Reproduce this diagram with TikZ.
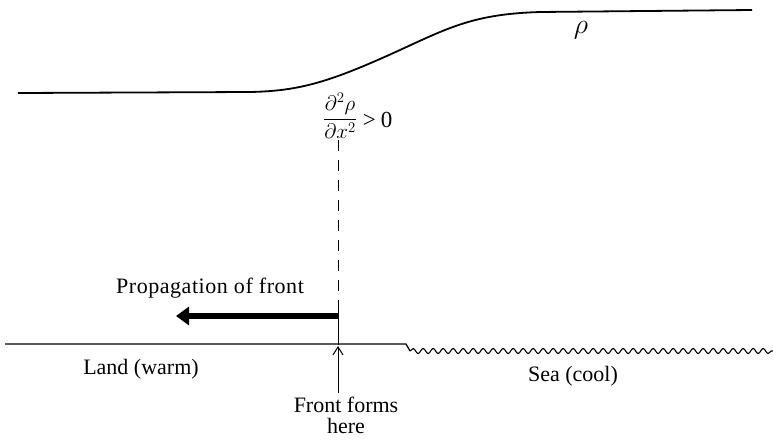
\RequirePackage{fix-cm}
\documentclass[tikz,border=0pt]{standalone}
\usepackage{amsmath}
\usepackage{fontspec}
\setmainfont{Liberation Serif}
\usetikzlibrary{arrows.meta,decorations.pathmorphing}
\begin{document}
\begin{tikzpicture}[x=1pt,y=-1pt,
  lbl/.style={font=\fontsize{22}{21}\selectfont, inner sep=0pt, align=center},
  mathlbl/.style={font=\fontsize{21}{24}\selectfont, inner sep=0pt},
  thinline/.style={line width=1pt}]
\useasboundingbox (0,0) rectangle (773,439);
% density curve
\draw[line width=1.8pt] (18,93) -- (250,92) .. controls (300,91) and (330,82) .. (400,50) .. controls (450,27) and (475,14) .. (540,12) -- (752,10);
\node[mathlbl, font=\fontsize{28}{30}\selectfont] (rho) at (581,30) {$\rho$};
\node[mathlbl, anchor=west] (cond) at (323,116) {$\dfrac{\partial^2\rho}{\partial x^2}$\hspace{6pt}\raisebox{-3.5pt}{\fontsize{23}{24}\selectfont >\hspace{5pt}0}};
% dashed front line
\coordinate (dtop) at (338,140);
\coordinate (dmid) at (338,300);
\coordinate (ground) at (338,345);
\draw[thinline, dash pattern=on 11pt off 9pt] (dtop) -- (dmid);
\draw[thinline] (dmid) -- (ground);
% propagation arrow
\coordinate (atail) at (338,316);
\coordinate (ahead) at (176,316);
\draw[line width=6pt, -{Triangle[length=13pt,width=18pt]}] (atail) -- (ahead);
\node[lbl, anchor=base, font=\fontsize{22}{22}\selectfont\addfontfeature{LetterSpace=2.5}] (prop) at (210,293) {Propagation of front};
% ground
\coordinate (gstart) at (5,344);
\coordinate (landend) at (406,344);
\coordinate (seastart) at (410,351);
\coordinate (seaend) at (773,351);
\draw[line width=1.3pt] (gstart) -- (landend) -- (seastart);
\draw[line width=1.1pt, decorate, decoration={snake, segment length=10pt, amplitude=2.5pt}] (seastart) -- (seaend);
\node[lbl, anchor=base] (land) at (141,374) {Land (warm)};
\node[lbl, anchor=base] (sea) at (573,381) {Sea (cool)};
\node[lbl, anchor=base] (forms) at (346,433) {Front forms\\here};
\coordinate (fbase) at (338,393);
\coordinate (ftip) at (338,346);
\draw[thinline, -{Straight Barb[length=8pt,width=10pt]}] (fbase) -- (ftip);
\end{tikzpicture}
\end{document}
